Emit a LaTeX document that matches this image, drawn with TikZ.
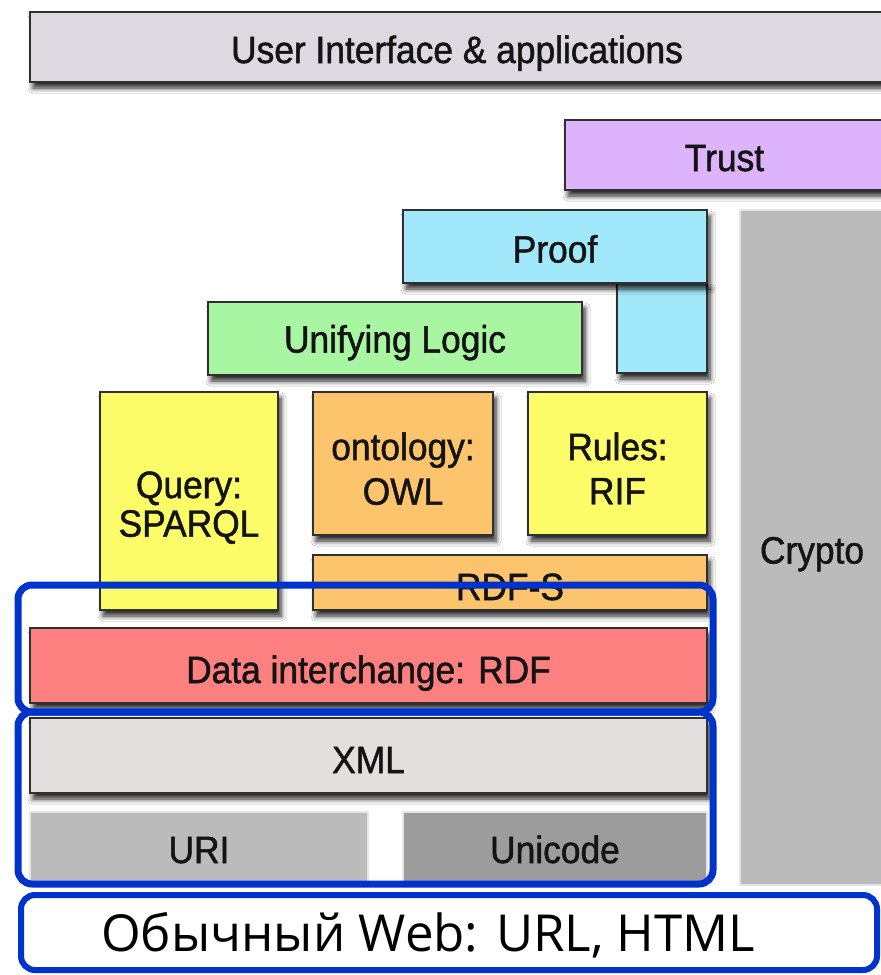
\documentclass[tikz,border=0pt]{standalone}
\usepackage{fontspec}
\setmainfont{Liberation Sans}[FakeStretch=0.93, FakeBold=1.3]
\newfontfamily\webfont{Open Sans}
\usetikzlibrary{shadows.blur}

\definecolor{uigray}{HTML}{DCDAE0}
\definecolor{trustc}{HTML}{DDB4FB}
\definecolor{proofc}{HTML}{A0E8FA}
\definecolor{logicc}{HTML}{A8F5A2}
\definecolor{yellowc}{HTML}{FCFC68}
\definecolor{orangec}{HTML}{FCC46C}
\definecolor{rdfc}{HTML}{FC8080}
\definecolor{xmlc}{HTML}{E2DFDF}
\definecolor{midgray}{HTML}{BBBBBB}
\definecolor{darkgray}{HTML}{9C9C9C}
\definecolor{edgec}{HTML}{303030}
\definecolor{framec}{HTML}{0033CC}

% two-line label, baseline on its first line
\newcommand{\twolines}[3][0pt]{\begin{tabular}[t]{@{}c@{}}#2\\[#1]#3\end{tabular}}

\tikzset{
  labeltext/.style={inner sep=0pt, outer sep=0pt, text=black!92, align=center,
    font=\fontsize{38}{37}\selectfont, text height=32pt, text depth=0pt},
  layer/.style={labeltext, draw=edgec, line width=2pt,
    blur shadow={shadow xshift=3pt, shadow yshift=-6pt, shadow blur radius=5pt,
      shadow blur steps=6, shadow opacity=85}},
  flat/.style={labeltext, draw=white!90!black, line width=1.5pt},
  firstline/.style={text height=0pt, text depth=#1},
  frame/.style={draw=framec, line width=7pt, rounded corners=14pt},
}

\begin{document}
\begin{tikzpicture}[x=1pt, y=-1pt]
  \useasboundingbox (0,0) rectangle (881,975);
  \clip (0,0) rectangle (881,975);
  \fill[white] (0,0) rectangle (881,975);

  % top layers
  \node[layer, fill=uigray, minimum width=854, minimum height=70] (ui) at (457,47) {User Interface \& applications};
  \node[layer, fill=trustc, minimum width=319, minimum height=70] (trust) at (724.5,155) {Trust};

  % crypto column on the right
  \node[flat, fill=midgray, minimum width=144, minimum height=675] (crypto) at (812,547.5) {Crypto};

  % proof: a wide top part and a column down the right
  \node[layer, fill=proofc, minimum width=90, minimum height=90] (proofleg) at (662,328) {};
  \node[layer, fill=proofc, minimum width=304, minimum height=73] (proof) at (555,246.5) {Proof};

  \node[layer, fill=logicc, minimum width=374, minimum height=73, text height=28pt] (logic) at (395,338.5) {Unifying Logic};

  % query, ontology, rules
  \node[layer, fill=yellowc, minimum width=178, minimum height=218, firstline=6pt] (query) at (189,501) {\twolines[1pt]{Query:}{SPARQL}};
  \node[layer, fill=orangec, minimum width=180, minimum height=143, firstline=7pt] (owl) at (403,463.5) {\twolines[7pt]{ontology:}{OWL}};
  \node[layer, fill=yellowc, minimum width=179, minimum height=143, firstline=7pt] (rules) at (617.5,463.5) {\twolines[7pt]{Rules:}{RIF}};
  \node[layer, fill=orangec, minimum width=394, minimum height=55, text height=35pt] (rdfs) at (510,582.5) {RDF-S};

  % data layers
  \node[layer, fill=rdfc, minimum width=677, minimum height=75, text height=35pt] (rdf) at (368.5,665.5) {Data interchange: RDF};
  \node[layer, fill=xmlc, minimum width=677, minimum height=75, text height=35pt] (xml) at (368.5,755.5) {XML};
  \node[flat, fill=midgray, minimum width=338, minimum height=73, text height=29pt] (uri) at (199,848.5) {URI};
  \node[flat, fill=darkgray, minimum width=304, minimum height=73, text height=29pt] (unicode) at (555,848.5) {Unicode};

  % blue groupings
  \draw[frame] (18,585) rectangle (713,712);
  \draw[frame] (18,712) rectangle (713,884);
  \draw[frame, line width=6pt, fill=white] (21,895) rectangle (877,970);
  \node[anchor=base west, inner sep=0pt, font=\webfont\fontsize{51}{51}\selectfont] (web) at (101,951) {Обычный Web: URL, HTML};
\end{tikzpicture}
\end{document}
